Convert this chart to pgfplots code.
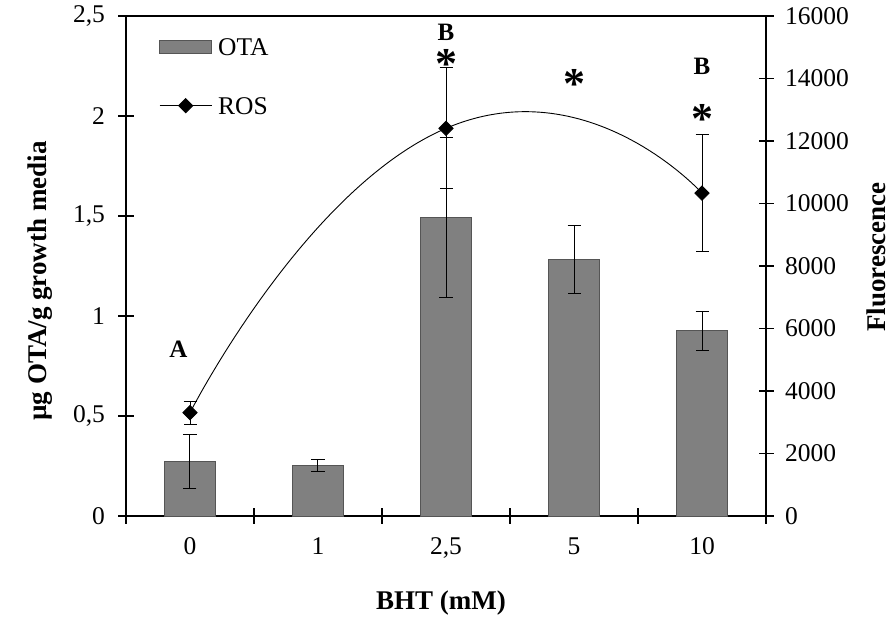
\documentclass[border=0pt]{standalone}
\usepackage{fontspec}
\setmainfont{Liberation Serif}
\usepackage{pgfplots}
\usepackage{pgfplotstable}
\pgfplotsset{compat=1.18}

\definecolor{barfill}{RGB}{128,128,128}
\definecolor{baredge}{RGB}{85,85,85}

% OTA content (left axis), mean and error per BHT level
\pgfplotstableread{
idx ota err
0 0.275 0.135
1 0.252 0.031
2 1.49 0.40
3 1.28 0.17
4 0.925 0.096
}\otadata

% ROS fluorescence (right axis)
\pgfplotstableread{
idx ros err
0 3306 370
2 12405 1936
4 10333 1880
}\rosdata

\tikzset{
  letter/.style={font=\fontsize{25bp}{30bp}\selectfont\bfseries, inner sep=0pt},
  star/.style={font=\fontsize{44bp}{48bp}\selectfont\bfseries, inner sep=0pt},
}

\pgfplotsset{
  commonaxis/.style={
    width=640bp, height=500bp, scale only axis,
    xmin=-0.5, xmax=4.5,
    at={(0,0)}, anchor=south west,
    /pgf/number format/assume math mode=true,
    tick label style={font=\fontsize{25.5bp}{30bp}\selectfont},
    label style={font=\fontsize{27bp}{32bp}\selectfont\bfseries},
    axis line style={line width=1.5bp},
    tick style={line width=1.2bp, black},
    major tick length=15bp,
    tick align=center,
  },
  errstyle/.style={
    /pgfplots/error bars/.cd, y dir=both, y explicit,
    error bar style={black, line width=1bp, solid},
    error mark options={black, line width=1bp, mark size=6.5bp, rotate=90},
    /pgfplots/.cd,
  },
  barlegend/.style={
    legend image code/.code={\draw[##1] (0bp,-6.5bp) rectangle (52bp,6.5bp);}},
  linelegend/.style={
    legend image code/.code={\draw[mark repeat=2, mark phase=2, ##1]
      plot coordinates {(0bp,0bp) (26bp,0bp) (52bp,0bp)};}},
}

\begin{document}
\begin{tikzpicture}
\path[use as bounding box] (-126bp,-102bp) rectangle (766bp,516bp);

\begin{axis}[commonaxis, name=main,
  ymin=0, ymax=2.5, ytick={0,0.5,...,2.5},
  yticklabel style={/pgf/number format/use comma, /pgf/number format/fixed, xshift=-10bp},
  xtick={-0.5,0.5,...,4.5}, xticklabels={},
  extra x ticks={0,1,2,3,4},
  extra x tick labels={0,1,{2,5},5,10},
  extra x tick style={major tick length=0pt},
  xticklabel style={yshift=-18bp},
  xtick pos=bottom, ytick pos=left,
  ylabel={µg OTA/g growth media},
  ylabel style={at={(axis description cs:-0.134,0.47)}, anchor=center},
  xlabel={BHT (mM)},
  xlabel style={at={(axis description cs:0.492,-0.174)}, anchor=center},
]
\addplot[ybar, bar width=0.406, fill=barfill, draw=baredge, line width=1bp, errstyle]
  table[x=idx, y=ota, y error=err] {\otadata};
% significance letters and asterisks
\node[letter] at (axis cs:-0.09,0.835) {A};
\node[letter] at (axis cs:2,2.42) {B};
\node[letter] at (axis cs:4,2.25) {B};
\node[star] at (axis cs:2,2.26) {*};
\node[star] at (axis cs:3,2.16) {*};
\node[star] at (axis cs:4,1.985) {*};
\end{axis}

\begin{axis}[commonaxis,
  ymin=0, ymax=16000, ytick={0,2000,...,16000},
  scaled y ticks=false,
  axis y line*=right, axis x line=none,
  yticklabel style={/pgf/number format/1000 sep={}, xshift=8bp},
  ylabel={Fluorescence},
  ylabel style={at={(axis description cs:1.173,0.518)}, anchor=center},
  legend cell align=left,
  legend style={draw=none, fill=none, at={(0,1)}, anchor=north west,
    xshift=33bp, yshift=-22bp, inner sep=0pt, row sep=42bp,
    font=\fontsize{25.5bp}{30bp}\selectfont,
    nodes={inner xsep=6bp, inner ysep=0pt, text height=17bp, text depth=0pt}},
]
\addlegendimage{fill=barfill, draw=baredge, line width=1bp, barlegend}
\addlegendentry{OTA}
\addplot[black, line width=0.9bp, smooth, tension=1, mark=square*, mark size=5bp,
  mark options={rotate=45, solid}, linelegend, errstyle]
  table[x=idx, y=ros, y error=err] {\rosdata};
\addlegendentry{ROS}
\end{axis}
\end{tikzpicture}
\end{document}
